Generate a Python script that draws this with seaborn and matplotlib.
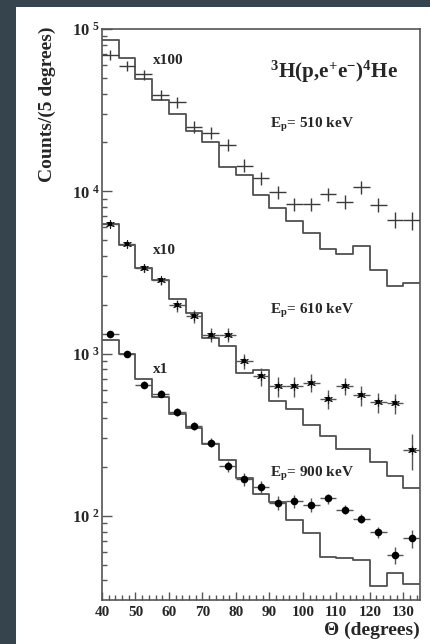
import numpy as np
import pandas as pd
import matplotlib
matplotlib.use("Agg")
import matplotlib.pyplot as plt
import seaborn as sns
from matplotlib.ticker import FixedLocator, MultipleLocator, LogLocator, NullFormatter, FixedFormatter
from matplotlib.patches import Rectangle

# ---------------- data ----------------
bin_edges = [40, 45, 50, 55, 60, 65, 70, 75, 80, 85, 90, 95, 100, 105, 110, 115, 120, 125, 130, 135]
theta = [42.5, 47.5, 52.5, 57.5, 62.5, 67.5, 72.5, 77.5, 82.5, 87.5, 92.5, 97.5,
         102.5, 107.5, 112.5, 117.5, 122.5, 127.5, 132.5]

# simulated spectra (histograms), already scaled (x100, x10, x1)
sim_510 = [85900, 65800, 49500, 36600, 29900, 23600, 20000, 14200, 12600, 9420,
           7850, 6520, 5520, 4400, 4110, 4570, 3280, 2620, 2720]
sim_610 = [6270, 4640, 3380, 2820, 2160, 1790, 1245, 1110, 763, 789,
           508, 454, 361, 309, 260, 260, 215, 176, 148]
sim_900 = [1205, 998, 702, 541, 423, 350, 276, 220, 171, 137,
           122, 94.2, 78, 56, 54.7, 53.3, 37.1, 44.3, 38]

# measured counts and errors
data_510 = [69000, 59100, 52500, 39400, 35300, 25000, 22900, 19300, 14400, 12000,
            9860, 8350, 8350, 9640, 8640, 10600, 8280, 6700, 6610]
err_510 = [5000, 4000, 3700, 2800, 2600, 2000, 1900, 1700, 1300, 1100,
           900, 800, 800, 900, 850, 1000, 850, 750, 800]
data_610 = [6270, 4740, 3380, 2820, 1980, 1700, 1310, 1310, 900, 725,
            628, 628, 662, 527, 628, 553, 503, 496, 256]
err_610 = [270, 200, 190, 160, 170, 150, 130, 130, 95, 95,
           90, 85, 85, 70, 75, 75, 70, 70, 65]
data_900 = [1312, 998, 644, 566, 437, 358, 283, 203, 168, 150,
            120, 123, 117, 128, 109, 96.3, 79.1, 57.3, 72.6]
err_900 = [50, 40, 30, 28, 22, 20, 18, 16, 15, 13,
           12, 12, 12, 9, 7, 6, 6, 7, 9]

scale_labels = ["x100", "x10", "x1"]
energy_labels = ["E$_{\\mathrm{p}}$= 510 keV", "E$_{\\mathrm{p}}$= 610 keV", "E$_{\\mathrm{p}}$= 900 keV"]
reaction = "$^{3}$H(p,e$^{+}$e$^{-}$)$^{4}$He"
x_ticks = [40, 50, 60, 70, 80, 90, 100, 110, 120, 130]
y_ticks = [100, 1000, 10000, 100000]
y_tick_labels = ["$10^{\\;\\,2}$", "$10^{\\;\\,3}$", "$10^{\\;\\,4}$", "$10^{\\;\\,5}$"]

# ---------------- style ----------------
sns.set_theme(style="ticks")
plt.rcParams.update({
    "font.family": ["Liberation Serif", "DejaVu Serif"],
    "font.weight": "bold",
    "mathtext.fontset": "custom",
    "mathtext.rm": "Liberation Serif:bold",
    "mathtext.bf": "Liberation Serif:bold",
    "mathtext.it": "Liberation Serif:bold:italic",
    "mathtext.default": "rm",
})

W, H = 430, 644
fig = plt.figure(figsize=(W / 100, H / 100), dpi=100, facecolor="#36444e")
fig.patches.append(Rectangle((16 / W, 0), 1 - 16 / W, 1 - 7 / H, transform=fig.transFigure,
                             facecolor="white", edgecolor="none", zorder=-10))

ax = fig.add_axes([102 / W, 44 / H, 318 / W, 571 / H])
ax.set_facecolor("white")

hist_color = "#505050"
for sim in [sim_510, sim_610, sim_900]:
    sns.histplot(x=theta, weights=sim, bins=bin_edges, element="step", fill=False,
                 color=hist_color, linewidth=1.3, ax=ax)

# 510 keV: plain crosses
ax.errorbar(theta, data_510, yerr=err_510, xerr=2.5, fmt="none", ecolor="#3a3a3a",
            elinewidth=1.0, capsize=0, zorder=4)
# 610 keV: asterisks
ax.errorbar(theta, data_610, yerr=err_610, xerr=2.5, fmt="none", ecolor="#555555",
            elinewidth=1.0, capsize=0, zorder=4)
sns.scatterplot(x=theta, y=data_610, marker=(6, 2, 0), s=32, color="#222222",
                linewidth=0.8, ax=ax, zorder=5)
sns.scatterplot(x=theta, y=data_610, marker="s", s=5, color="black",
                linewidth=0, ax=ax, zorder=5)
# 900 keV: filled circles
ax.errorbar(theta, data_900, yerr=err_900, xerr=2.5, fmt="none", ecolor="#555555",
            elinewidth=1.0, capsize=0, zorder=4)
sns.scatterplot(x=theta, y=data_900, marker="o", s=30, color="black",
                edgecolor="black", linewidth=0, ax=ax, zorder=5)

ax.set_yscale("log")
ax.set_xlim(40, 135)
ax.set_ylim(30.3, 1.0e5)
ax.set_xlabel("")
ax.set_ylabel("")

ax.xaxis.set_major_locator(FixedLocator(x_ticks))
ax.xaxis.set_minor_locator(MultipleLocator(2))
ax.set_xticklabels([str(t) for t in x_ticks])
ax.yaxis.set_major_locator(FixedLocator(y_ticks))
ax.yaxis.set_major_formatter(FixedFormatter(y_tick_labels))
ax.yaxis.set_minor_locator(LogLocator(base=10, subs=np.arange(2, 10), numticks=20))
ax.yaxis.set_minor_formatter(NullFormatter())

ax.tick_params(axis="both", which="major", direction="in", length=7, width=1.0,
               color="#555555", labelsize=11, top=False, right=False)
ax.tick_params(axis="both", which="minor", direction="in", length=3.5, width=1.0,
               color="#555555", top=False, right=False)
ax.tick_params(axis="x", which="major", pad=4, length=6)
ax.tick_params(axis="y", which="major", pad=1.5, labelsize=12)
for lab in ax.get_xticklabels() + ax.get_yticklabels():
    lab.set_fontweight("bold")

for sp in ax.spines.values():
    sp.set_visible(True)
    sp.set_color("#555555")
    sp.set_linewidth(1.2)

def fx(x):
    return x / W

def fy(y):
    return 1 - y / H

fig.text(fx(153), fy(61), scale_labels[0], ha="left", va="center", fontsize=11, fontweight="bold")
fig.text(fx(153), fy(251), scale_labels[1], ha="left", va="center", fontsize=11, fontweight="bold")
fig.text(fx(153), fy(369), scale_labels[2], ha="left", va="center", fontsize=11, fontweight="bold")

fig.text(fx(270), fy(78), reaction, ha="left", va="baseline", fontsize=15.2, fontweight="bold")
fig.text(fx(270), fy(128), energy_labels[0], ha="left", va="baseline", fontsize=11, fontweight="bold")
fig.text(fx(270), fy(314), energy_labels[1], ha="left", va="baseline", fontsize=11, fontweight="bold")
fig.text(fx(270), fy(477), energy_labels[2], ha="left", va="baseline", fontsize=11, fontweight="bold")

fig.text(fx(47.5), fy(27), "Counts/(5 degrees)", rotation=90, ha="center", va="top",
         fontsize=14, fontweight="bold")
fig.text(fx(420), fy(635), "\u0398 (degrees)", ha="right", va="baseline",
         fontsize=14, fontweight="bold")

fig.savefig("out.png", dpi=100, facecolor=fig.get_facecolor())
